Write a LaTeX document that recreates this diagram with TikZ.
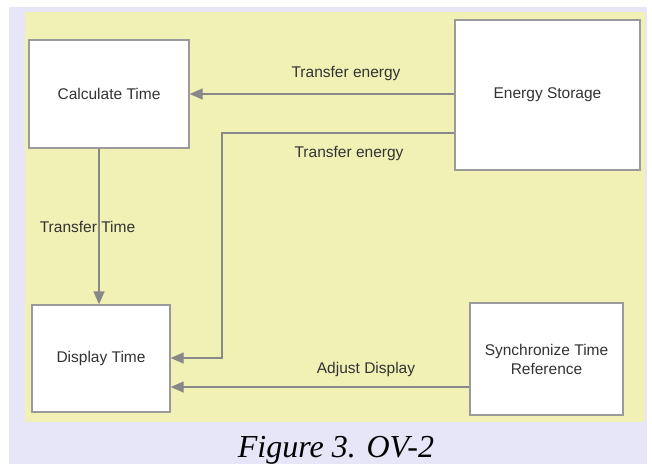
\documentclass[tikz,border=0pt]{standalone}
\usepackage{fontspec}
\setmainfont{Liberation Sans}
\newfontfamily\capfont{Liberation Serif}
\usetikzlibrary{arrows.meta}
\definecolor{lav}{HTML}{E6E6F8}
\definecolor{pale}{HTML}{F1F0B5}
\definecolor{edge}{HTML}{9A9A9A}
\definecolor{arrc}{HTML}{888888}
\definecolor{txt}{HTML}{333333}
\tikzset{
  box/.style={draw=edge, line width=1.4pt, fill=white, rectangle, inner sep=0pt, text=txt, font=\fontsize{15.5}{19}\selectfont, align=center},
  arr/.style={draw=arrc, line width=1.4pt, -{Triangle[length=13pt,width=11pt]}},
  lbl/.style={text=txt, font=\fontsize{15.5}{19}\selectfont, inner sep=0pt}
}
\begin{document}
\begin{tikzpicture}[x=1pt,y=-1pt]
\useasboundingbox (0,0) rectangle (652,464);
\fill[lav] (9,7) rectangle (647,464);
\fill[pale] (25,12) rectangle (645,422);
\node[box, minimum width=160pt, minimum height=108pt] (ct) at (109,94) {Calculate Time};
\node[box, minimum width=185pt, minimum height=150pt] (es) at (547.5,95) {Energy Storage};
\node[box, minimum width=138pt, minimum height=107pt] (dt) at (101,358.5) {Display Time};
\node[box, minimum width=153pt, minimum height=112pt] (st) at (546.5,359) {Synchronize Time\\Reference};
\coordinate (bend1) at (222,133);
\coordinate (bend2) at (222,358);
\draw[arr] (es.west |- ct.east) -- (ct.east);
\draw[arr] (es.west |- bend1) -- (bend1) -- (bend2) -- (dt.east |- bend2);
\draw[arr] (ct.south -| 99,0) -- (dt.north -| 99,0);
\draw[arr] (st.west |- 0,387) -- (dt.east |- 0,387);
\node[lbl] (l1) at (346,73) {Transfer energy};
\node[lbl] (l2) at (349,153) {Transfer energy};
\node[lbl] (l3) at (87.5,227) {Transfer Time};
\node[lbl] (l4) at (366,369) {Adjust Display};
\node[inner sep=0pt, anchor=base, font=\capfont\itshape\fontsize{32}{36}\selectfont] (cap) at (336,457) {Figure 3. OV-2};
\end{tikzpicture}
\end{document}
